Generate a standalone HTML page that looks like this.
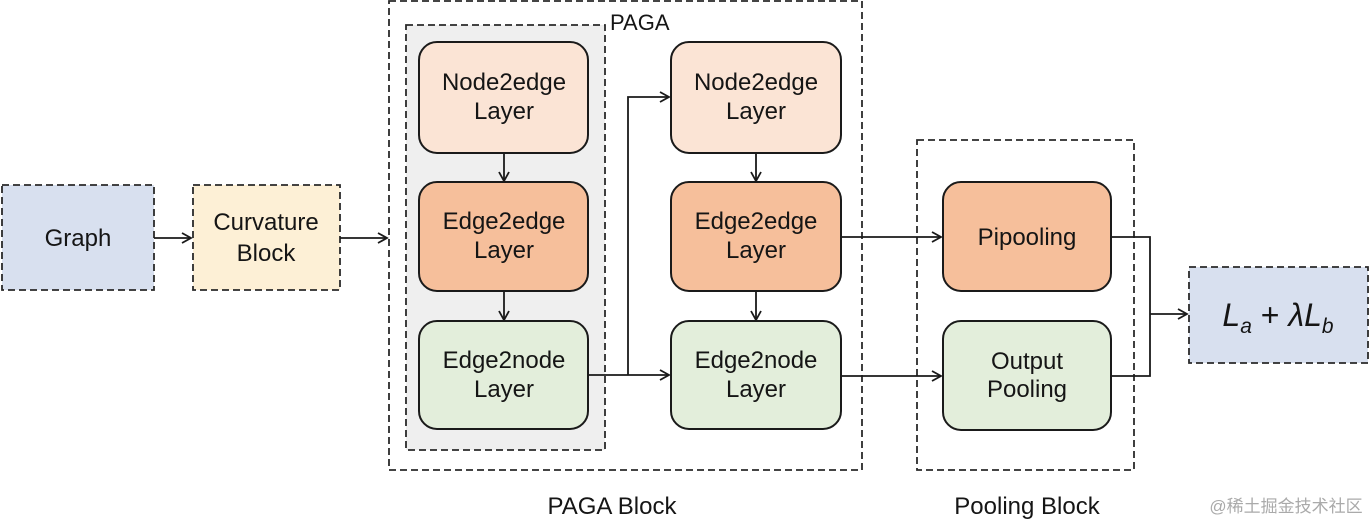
<!DOCTYPE html>
<html><head><meta charset="utf-8"><style>
html,body{margin:0;padding:0;background:#fff;}
svg{display:block;}
text{font-family:"Liberation Sans","DejaVu Sans",sans-serif;fill:#151515;}
</style></head><body>
<svg width="1370" height="524" viewBox="0 0 1370 524" xmlns="http://www.w3.org/2000/svg">
<defs>
<marker id="a" markerWidth="12" markerHeight="12" refX="10" refY="6" orient="auto" markerUnits="userSpaceOnUse">
<path d="M1,1 L10,6 L1,11" fill="none" stroke="#1a1a1a" stroke-width="1.8"/>
</marker>
</defs>
<g stroke="#2a2a2a" stroke-width="1.8" stroke-dasharray="7,4" fill="none">
<rect x="389" y="1" width="473" height="469"/>
<rect x="406" y="25" width="199" height="425" fill="#efefef"/>
<rect x="917" y="140" width="217" height="330"/>
<rect x="2" y="185" width="152" height="105" fill="#d8e0ef"/>
<rect x="193" y="185" width="147" height="105" fill="#fdf0d6"/>
<rect x="1189" y="267" width="179" height="96" fill="#d8e0ef"/>
</g>
<g stroke="#1a1a1a" stroke-width="2">
<rect x="419" y="42" width="169" height="111" rx="18" fill="#fbe4d5"/>
<rect x="419" y="182" width="169" height="109" rx="18" fill="#f6bf9b"/>
<rect x="419" y="321" width="169" height="108" rx="18" fill="#e3eedb"/>
<rect x="671" y="42" width="170" height="111" rx="18" fill="#fbe4d5"/>
<rect x="671" y="182" width="170" height="109" rx="18" fill="#f6bf9b"/>
<rect x="671" y="321" width="170" height="108" rx="18" fill="#e3eedb"/>
<rect x="943" y="182" width="168" height="109" rx="18" fill="#f6bf9b"/>
<rect x="943" y="321" width="168" height="109" rx="18" fill="#e3eedb"/>
</g>
<g stroke="#1a1a1a" stroke-width="1.8" fill="none">
<line x1="154" y1="238" x2="191" y2="238" marker-end="url(#a)"/>
<line x1="340" y1="238" x2="387" y2="238" marker-end="url(#a)"/>
<line x1="504" y1="153" x2="504" y2="181" marker-end="url(#a)"/>
<line x1="504" y1="291" x2="504" y2="320" marker-end="url(#a)"/>
<line x1="756" y1="153" x2="756" y2="181" marker-end="url(#a)"/>
<line x1="756" y1="291" x2="756" y2="320" marker-end="url(#a)"/>
<line x1="588" y1="375" x2="669" y2="375" marker-end="url(#a)"/>
<polyline points="628,375 628,97 669,97" marker-end="url(#a)"/>
<line x1="841" y1="237" x2="941" y2="237" marker-end="url(#a)"/>
<line x1="841" y1="376" x2="941" y2="376" marker-end="url(#a)"/>
<polyline points="1111,237 1150,237 1150,376 1111,376"/>
<line x1="1150" y1="314" x2="1187" y2="314" marker-end="url(#a)"/>
</g>
<g font-size="24" text-anchor="middle">
<text x="78" y="246">Graph</text>
<text x="266" y="230">Curvature</text>
<text x="266" y="261">Block</text>
<text x="504" y="90">Node2edge</text><text x="504" y="119">Layer</text>
<text x="504" y="229">Edge2edge</text><text x="504" y="258">Layer</text>
<text x="504" y="368">Edge2node</text><text x="504" y="397">Layer</text>
<text x="756" y="90">Node2edge</text><text x="756" y="119">Layer</text>
<text x="756" y="229">Edge2edge</text><text x="756" y="258">Layer</text>
<text x="756" y="368">Edge2node</text><text x="756" y="397">Layer</text>
<text x="1027" y="245">Pipooling</text>
<text x="1027" y="369">Output</text><text x="1027" y="397">Pooling</text>
<text x="612" y="514">PAGA Block</text>
<text x="1027" y="514">Pooling Block</text>
</g>
<text x="610" y="30" font-size="22">PAGA</text>
<text x="1278" y="326" font-size="32" text-anchor="middle" font-family="Liberation Serif,serif" font-style="italic">L<tspan font-size="21" dy="7">a</tspan><tspan dy="-7" font-style="normal"> + </tspan>λL<tspan font-size="21" dy="7">b</tspan></text>
<text x="1286" y="512" font-size="17" text-anchor="middle" style="fill:#aaa;font-family:'Liberation Sans','Noto Sans CJK SC',sans-serif">@稀土掘金技术社区</text>
</svg>
</body></html>
